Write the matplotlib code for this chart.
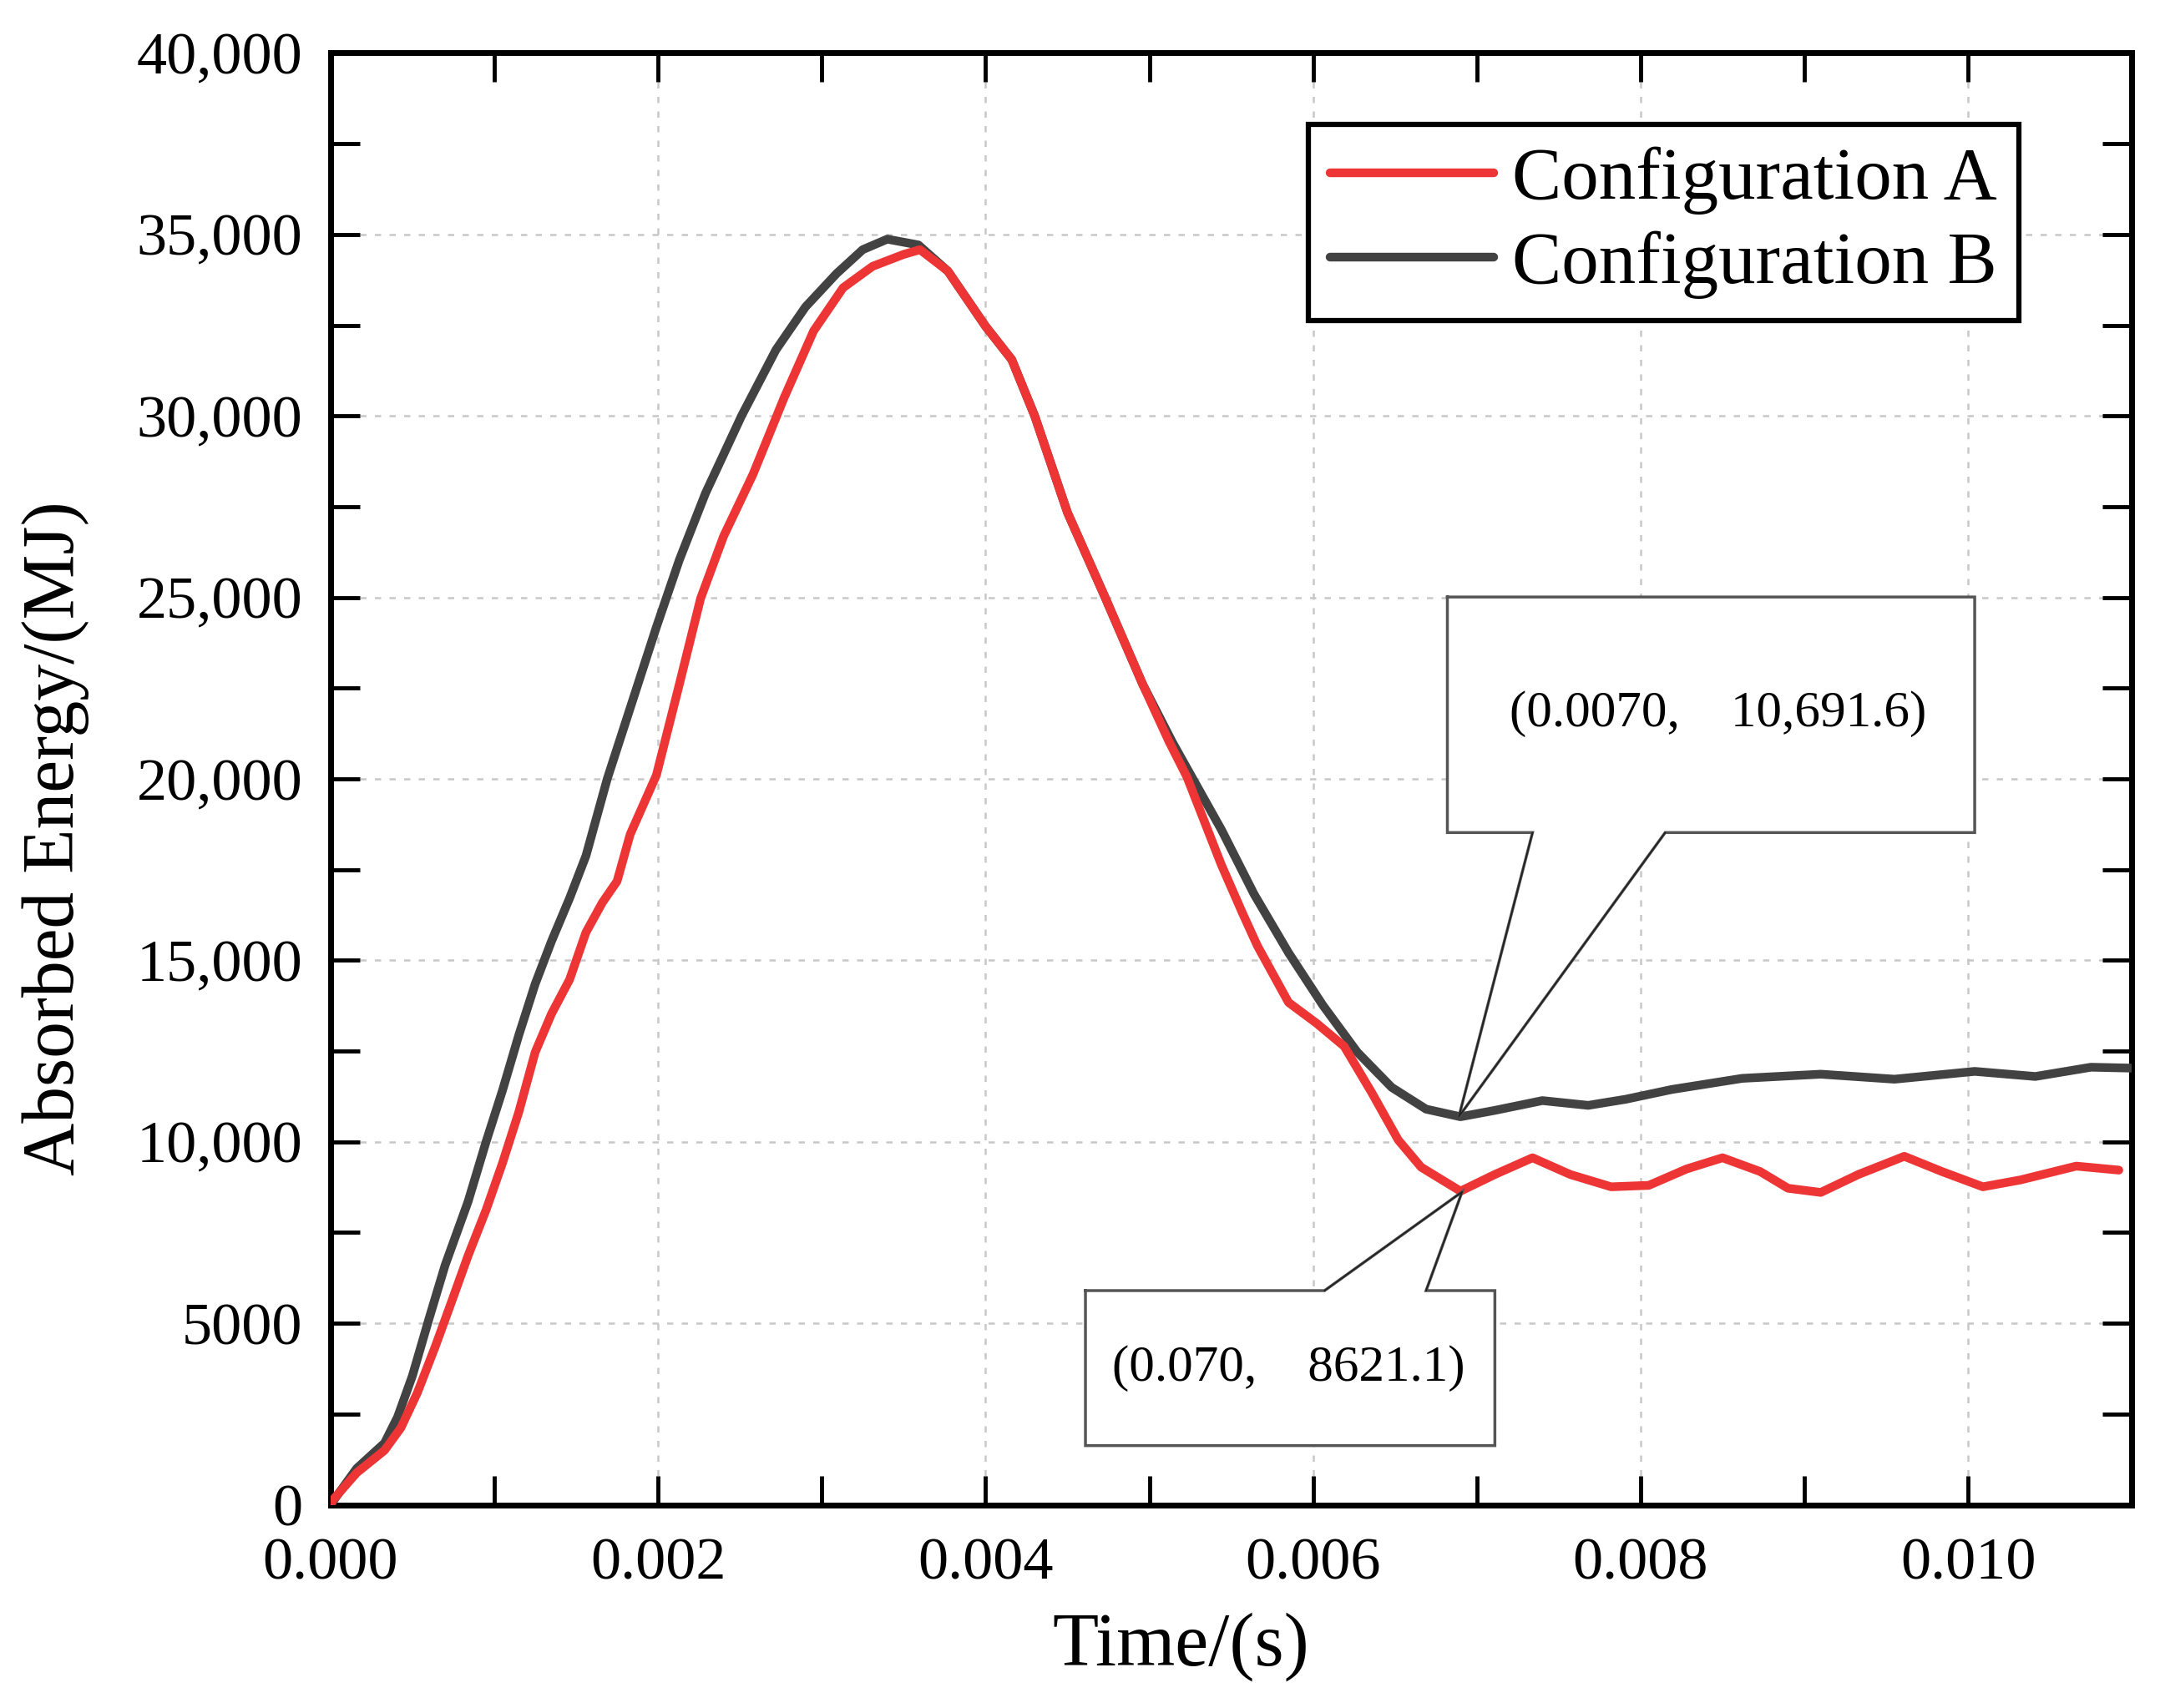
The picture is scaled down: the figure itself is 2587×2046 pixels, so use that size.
import matplotlib
matplotlib.use("Agg")
import matplotlib.pyplot as plt
from matplotlib.ticker import MultipleLocator, FuncFormatter
from matplotlib.patches import Polygon

plt.rcParams['font.family'] = ['Liberation Serif', 'DejaVu Serif']

# Configuration A (red)
time_a = [0, 0.00002, 0.00016, 0.00033, 0.00043, 0.00053, 0.00064, 0.00074, 0.00084, 0.00095,
          0.00105, 0.00115, 0.00125, 0.00135, 0.00146, 0.00156, 0.00166, 0.00175, 0.00183, 0.00199,
          0.00213, 0.00226, 0.0024, 0.00258, 0.00277, 0.00295, 0.00313, 0.00331, 0.0035, 0.0036,
          0.00377, 0.004, 0.00416, 0.0043, 0.0045, 0.00473, 0.00496, 0.00512, 0.00523, 0.00544,
          0.00557, 0.00566, 0.00585, 0.00602, 0.00619, 0.00636, 0.00652, 0.00666, 0.0069, 0.00711,
          0.00734, 0.00757, 0.00782, 0.00805, 0.00828, 0.0085, 0.00873, 0.0089, 0.0091, 0.00933,
          0.00961, 0.00984, 0.01009, 0.01032, 0.01066, 0.01092]
energy_a = [0, 160, 880, 1500, 2120, 3080, 4360, 5600, 6860, 8120,
            9410, 10820, 12470, 13530, 14470, 15770, 16590, 17180, 18470, 20100,
            22600, 24970, 26680, 28390, 30500, 32340, 33530, 34120, 34450, 34580,
            33990, 32470, 31550, 30000, 27340, 25000, 22600, 21030, 20050, 17630,
            16290, 15400, 13840, 13270, 12630, 11340, 10050, 9300, 8640, 9100,
            9560, 9100, 8760, 8800, 9250, 9560, 9180, 8720, 8605, 9100,
            9600, 9180, 8760, 8950, 9330, 9220]

# Configuration B (dark grey)
time_b = [0, 0.00016, 0.00033, 0.00041, 0.0005, 0.0006, 0.0007, 0.00084, 0.00095, 0.00105,
          0.00115, 0.00125, 0.00135, 0.00146, 0.00156, 0.00169, 0.00183, 0.00199, 0.00213, 0.00229,
          0.00251, 0.00272, 0.0029, 0.00309, 0.00325, 0.0034, 0.00359, 0.00377, 0.004, 0.00416,
          0.0043, 0.0045, 0.00473, 0.00496, 0.00514, 0.00544, 0.00564, 0.00585, 0.00606, 0.00627,
          0.00648, 0.00669, 0.0069, 0.00711, 0.0074, 0.00768, 0.00791, 0.00819, 0.00862, 0.0091,
          0.00955, 0.01004, 0.01041, 0.01075, 0.011]
energy_b = [0, 1000, 1700, 2420, 3550, 5100, 6600, 8350, 10000, 11410,
            12940, 14350, 15530, 16710, 17880, 20000, 21950, 24180, 26030, 27870,
            30000, 31820, 33000, 33920, 34580, 34870, 34710, 33990, 32470, 31550,
            30000, 27340, 25000, 22600, 21016, 18600, 16820, 15210, 13760, 12470,
            11500, 10900, 10690, 10866, 11135, 11004, 11173, 11441, 11748, 11863,
            11725, 11940, 11800, 12055, 12030]

labels = ['Configuration A', 'Configuration B']
colors = ['#ee3535', '#424242']

# annotated minimum points
annot_x = [0.00689, 0.00691]
annot_y = [10691.6, 8621.1]
annot_text = ['(0.0070,    10,691.6)', '(0.070,    8621.1)']

fig = plt.figure(figsize=(25.87, 20.46), dpi=100)
ax = fig.add_axes([0.153, 0.119, 0.834, 0.850])

ax.plot(time_a, energy_a, color=colors[0], lw=7.5, label=labels[0], zorder=3,
        solid_joinstyle='round', solid_capstyle='round')
ax.plot(time_b, energy_b, color=colors[1], lw=7.5, label=labels[1], zorder=2.9,
        solid_joinstyle='round', solid_capstyle='round')

ax.set_xlim(0, 0.011)
ax.set_ylim(0, 40000)
ax.xaxis.set_major_locator(MultipleLocator(0.002))
ax.xaxis.set_minor_locator(MultipleLocator(0.001))
ax.yaxis.set_major_locator(MultipleLocator(5000))
ax.yaxis.set_minor_locator(MultipleLocator(2500))
ax.xaxis.set_major_formatter(FuncFormatter(lambda v, p: f"{v:.3f}"))
ax.yaxis.set_major_formatter(FuncFormatter(lambda v, p: f"{v:,.0f}" if v >= 10000 else f"{v:.0f}"))

ax.tick_params(which='both', direction='in', top=True, right=True, length=25, width=3.5,
               labelsize=52)
ax.tick_params(axis='x', pad=28)
ax.tick_params(axis='y', pad=24)
for s in ax.spines.values():
    s.set_linewidth(5)
ax.set_axisbelow(True)
ax.grid(which='major', color='#c8c8c8', linestyle=(0, (3, 4)), linewidth=1.8)

ax.set_xlabel('Time/(s)', fontsize=65)
ax.set_ylabel('Absorbed Energy/(MJ)', fontsize=63)
ax.xaxis.set_label_coords(0.472, -0.074)
ax.yaxis.set_label_coords(-0.134, 0.459)

# callout boxes
box_b = [(0.00682, 25010), (0.01004, 25010), (0.01004, 18520), (0.00815, 18520),
         (annot_x[0], annot_y[0]), (0.00734, 18520), (0.00682, 18520)]
box_a = [(0.00461, 5900), (0.00607, 5900), (annot_x[1], annot_y[1]), (0.00669, 5900),
         (0.00711, 5900), (0.00711, 1630), (0.00461, 1630)]
for verts in (box_b, box_a):
    ax.add_patch(Polygon(verts, closed=True, facecolor='white', edgecolor='none', zorder=1.5))
    xs = [v[0] for v in verts] + [verts[0][0]]
    ys = [v[1] for v in verts] + [verts[0][1]]
    ax.plot(xs, ys, color='#555555', lw=2.5, zorder=3.5, solid_joinstyle='miter')
# thin pointer lines
for verts, idx in ((box_b, (3, 4, 5)), (box_a, (1, 2, 3))):
    ax.plot([verts[i][0] for i in idx], [verts[i][1] for i in idx], color='#222222', lw=1.3, zorder=3.6)

ax.text(0.00847, 21780, annot_text[0], fontsize=44, ha='center', va='center', zorder=4)
ax.text(0.00585, 3760, annot_text[1], fontsize=44, ha='center', va='center', zorder=4)

leg = ax.legend(loc='upper left', bbox_to_anchor=(0.5426, 0.951), borderaxespad=0,
                fontsize=64, handlelength=2.2, handletextpad=0.25, labelspacing=0.22,
                borderpad=0.3, fancybox=False, framealpha=1)
leg.get_frame().set_edgecolor('black')
leg.get_frame().set_linewidth(4.5)

fig.savefig('out.png', dpi=100)
